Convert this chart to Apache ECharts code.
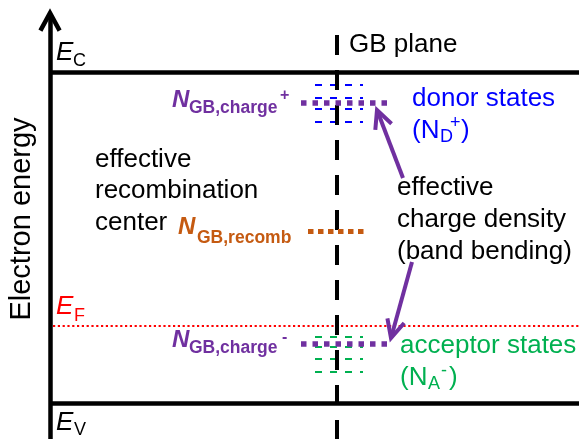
<!DOCTYPE html>
<html><head><meta charset="utf-8">
<script src="https://cdn.jsdelivr.net/npm/echarts@6/dist/echarts.min.js"></script>
<style>html,body{margin:0;padding:0;background:#fff}#c{width:579px;height:439px}</style>
</head><body><div id="c"></div>
<script>
// ---------------- data (schematic energy diagram, picture units, y grows downward) ----------------
const bandLevelNames = ['E_C', 'E_F', 'E_V'];
const bandLevelEnergy = [72.5, 325.5, 403];
const energyAxisX = [50];
const gbPlaneX = [337];
const donorStateLevels = [85, 97.5, 109, 121.5];
const acceptorStateLevels = [337, 347, 359, 372];
const chargeLevels = [103, 344];           // N_GB,charge+ , N_GB,charge-
const recombLevels = [231];                // N_GB,recomb
const stateSpan = [315, 363];
const chargeSpan = [301, 387];
const recombSpan = [308, 367];
const arrowTails = [[403, 178], [412, 262]];
const arrowTips = [[377, 110], [391, 338]];

// text content
const labelTexts = {
  axis: 'Electron energy',
  plane: 'GB plane',
  recombCenter: ['effective', 'recombination', 'center'],
  chargeDensity: ['effective', 'charge density', '(band bending)'],
  donor: 'donor states',
  acceptor: 'acceptor states'
};

// ---------------- layout / style ----------------
const W = 579, H = 439;
const FONT = "'Liberation Sans', Arial, sans-serif";
const C = { black: '#000000', red: '#ff0000', blue: '#0000ff', purple: '#7030a0', orange: '#c55a11', green: '#00b050' };

function seg(x1, y1, x2, y2) { return { coords: [[x1, y1], [x2, y2]] }; }
function chevron(tip, tail, len, ang) {
  const dx = tail[0] - tip[0], dy = tail[1] - tip[1];
  const a = Math.atan2(dy, dx);
  const p1 = [tip[0] + len * Math.cos(a + ang), tip[1] + len * Math.sin(a + ang)];
  const p2 = [tip[0] + len * Math.cos(a - ang), tip[1] + len * Math.sin(a - ang)];
  return { coords: [p1, tip, p2] };
}
function linesSeries(data, color, width, type, polyline) {
  return {
    type: 'lines', coordinateSystem: 'cartesian2d', polyline: !!polyline, silent: true,
    data: data, symbol: 'none',
    lineStyle: { color: color, width: width, type: type || 'solid', cap: 'butt', join: 'miter', opacity: 1 }
  };
}

const axisX = energyAxisX[0];
const series = [];
// band edges E_C, E_V (solid)
series.push(linesSeries([seg(axisX, bandLevelEnergy[0], W, bandLevelEnergy[0]), seg(axisX, bandLevelEnergy[2], W, bandLevelEnergy[2])], C.black, 4.5));
// Fermi level (dotted)
series.push(linesSeries([seg(axisX + 3, bandLevelEnergy[1], W, bandLevelEnergy[1])], C.red, 2.2, [2.2, 2.6]));
// energy axis with open arrow head
series.push(linesSeries([seg(axisX, H, axisX, 14)], C.black, 4.5));
series.push(linesSeries([chevron([axisX, 13], [axisX, H], 20, 0.5)], C.black, 4.5, 'solid', true));
// donor / acceptor state levels
series.push(linesSeries(donorStateLevels.map(y => seg(stateSpan[0], y, stateSpan[1], y)), C.blue, 1.8, [7, 8]));
series.push(linesSeries(acceptorStateLevels.map(y => seg(stateSpan[0], y, stateSpan[1], y)), C.green, 1.8, [7, 8]));
// GB plane
series.push(linesSeries([seg(gbPlaneX[0], 35, gbPlaneX[0], H + 5)], C.black, 4, [20, 15]));
// effective charge levels
series.push(linesSeries(chargeLevels.map(y => seg(chargeSpan[0], y, chargeSpan[1], y)), C.purple, 5.5, [5.5, 6]));
// recombination level
series.push(linesSeries(recombLevels.map(y => seg(recombSpan[0], y, recombSpan[1], y)), C.orange, 5, [5.5, 4.5]));
// arrows
series.push(linesSeries(arrowTails.map((t, i) => seg(t[0], t[1], arrowTips[i][0], arrowTips[i][1])), C.purple, 4));
series.push(linesSeries(arrowTips.map((t, i) => chevron(t, arrowTails[i], 20, 0.45)), C.purple, 4, 'solid', true));

// text pieces: [text, x, y, style]
const ST = {
  main: { fontSize: 26, color: C.black },
  E: { fontSize: 26, fontStyle: 'italic', color: C.black },
  Esub: { fontSize: 18, color: C.black },
  EF: { fontSize: 26, fontStyle: 'italic', color: C.red },
  EFsub: { fontSize: 18, color: C.red },
  N: { fontSize: 24, fontStyle: 'italic', fontWeight: 'bold', color: C.purple },
  Nsub: { fontSize: 17.5, fontWeight: 'bold', color: C.purple },
  Nsup: { fontSize: 16, fontWeight: 'bold', color: C.purple },
  R: { fontSize: 24, fontStyle: 'italic', fontWeight: 'bold', color: C.orange },
  Rsub: { fontSize: 17.5, fontWeight: 'bold', color: C.orange },
  blue: { fontSize: 26, color: C.blue },
  blueSub: { fontSize: 18, color: C.blue },
  green: { fontSize: 26, color: C.green },
  greenSub: { fontSize: 18, color: C.green }
};
const pieces = [
  [labelTexts.plane, 349, 45, 'main'],
  ['E', 56, 52.5, 'E'], ['C', 73, 61.5, 'Esub'],
  ['E', 56, 307, 'EF'], ['F', 74, 316.5, 'EFsub'],
  ['E', 56, 422.5, 'E'], ['V', 74, 430, 'Esub'],
  [labelTexts.recombCenter[0], 95, 160, 'main'],
  [labelTexts.recombCenter[1], 95, 191, 'main'],
  [labelTexts.recombCenter[2], 95, 223, 'main'],
  ['N', 178, 227, 'R'], ['GB,recomb', 197, 238, 'Rsub'],
  ['N', 172, 100.5, 'N'], ['GB,charge', 189, 108, 'Nsub'], ['+', 280, 96, 'Nsup'],
  ['N', 172, 340.5, 'N'], ['GB,charge', 189, 348, 'Nsub'], ['-', 282, 338, 'Nsup'],
  [labelTexts.donor, 412, 99, 'blue'],
  ['(N', 412, 131, 'blue'], ['D', 440, 137, 'blueSub'], ['+', 450, 123, 'blueSub'], [')', 461, 131, 'blue'],
  [labelTexts.chargeDensity[0], 397, 188, 'main'],
  [labelTexts.chargeDensity[1], 397, 220, 'main'],
  [labelTexts.chargeDensity[2], 397, 252, 'main'],
  [labelTexts.acceptor, 400, 346, 'green'],
  ['(N', 400, 378, 'green'], ['A', 428, 384, 'greenSub'], ['-', 441, 371, 'greenSub'], [')', 449, 378, 'green']
];
series.push({
  type: 'scatter', silent: true, symbolSize: 0, z: 10,
  itemStyle: { opacity: 1 },
  data: pieces.map(p => ({
    value: [p[1], p[2]],
    label: Object.assign({ show: true, position: 'right', distance: 0, formatter: p[0], fontFamily: FONT, opacity: 1 }, ST[p[3]])
  }))
});
series.push({
  type: 'scatter', silent: true, symbolSize: 0, z: 10,
  itemStyle: { opacity: 1 },
  data: [{ value: [22, 219], label: { show: true, position: 'inside', rotate: 90, formatter: labelTexts.axis, fontFamily: FONT, fontSize: 29, color: C.black, opacity: 1 } }]
});

const chart = echarts.init(document.getElementById('c'), null, { renderer: 'canvas' });
chart.setOption({
  animation: false,
  backgroundColor: '#ffffff',
  grid: { left: 0, right: 0, top: 0, bottom: 0 },
  xAxis: { type: 'value', min: 0, max: W, show: false },
  yAxis: { type: 'value', min: 0, max: H, inverse: true, show: false },
  series: series
});
</script></body></html>
